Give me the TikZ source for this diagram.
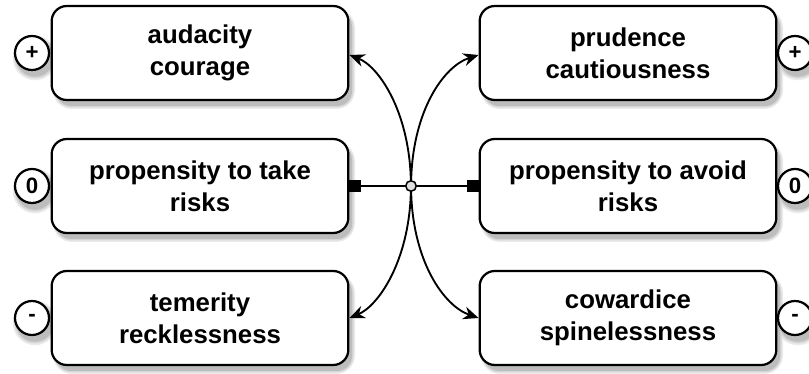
\documentclass[tikz,border=0pt]{standalone}
\usepackage{fontspec}
\setmainfont{Liberation Sans}
\usetikzlibrary{arrows.meta}

\begin{document}
\begin{tikzpicture}[
        x=0.03cm, y=-0.03cm,
        >={Stealth[length=13pt,width=11pt]},
        trait/.style={draw, line width=1.9pt, rounded corners=13pt, fill=white,
            minimum width=8.9cm, minimum height=2.82cm, align=center,
            font=\bfseries\fontsize{22}{27}\selectfont},
        sign/.style={circle, draw, line width=1.9pt, fill=white, minimum size=1.02cm,
            inner sep=0pt, font=\bfseries\fontsize{19}{21}\selectfont},
        link/.style={line width=1.6pt},
        knob/.style={-{Square[length=10pt,width=10pt]}, line width=1.6pt}
    ]
        \useasboundingbox (0,0) rectangle (809,374);

        % Shadows
        \foreach \g/\c in {3/8, 1.5/16, 0/26} {
            \foreach \x in {200,628}
                \foreach \y in {53,186,318}
                    \fill[black!\c, rounded corners={(13+\g)*1pt}]
                        (\x-148+4-\g, \y-47+6-\g) rectangle (\x+148+4+\g, \y+47+6+\g);
            \foreach \x in {32,795}
                \foreach \y in {53,186,318}
                    \fill[black!\c] (\x+3, \y+5) circle ({(16+\g)*1pt});
        }

        % Boxes on the left
        \node[trait] (audacity)  at (200,53)  {audacity\\courage};
        \node[trait] (takerisk)  at (200,186) {propensity to take\\risks};
        \node[trait] (temerity)  at (200,318) {temerity\\recklessness};

        % Boxes on the right
        \node[trait] (prudence)  at (628,53)  {prudence\\cautiousness};
        \node[trait] (avoidrisk) at (628,186) {propensity to avoid\\risks};
        \node[trait] (cowardice) at (628,318) {cowardice\\spinelessness};

        % Signs
        \node[sign] (plusL)  at (32,53)   {+};
        \node[sign] (zeroL)  at (32,186)  {0};
        \node[sign] (minusL) at (32,318)  {-};
        \node[sign] (plusR)  at (795,53)  {+};
        \node[sign] (zeroR)  at (795,186) {0};
        \node[sign] (minusR) at (795,318) {-};

        % Centre
        \node[circle, draw, line width=1.3pt, fill=gray!25, minimum size=9pt, inner sep=0pt] (hub) at (411,186) {};

        \draw[knob] (hub) -- (takerisk.east);
        \draw[knob] (hub) -- (avoidrisk.west);

        \draw[link, ->] (hub) .. controls (409,110) and (378,66) .. (audacity.east |- 0,55);
        \draw[link, ->] (hub) .. controls (413,110) and (444,66) .. (prudence.west |- 0,55);
        \draw[link, ->] (hub) .. controls (409,262) and (378,306) .. (temerity.east |- 0,318);
        \draw[link, ->] (hub) .. controls (413,262) and (444,306) .. (cowardice.west |- 0,318);
    \end{tikzpicture}
\end{document}
